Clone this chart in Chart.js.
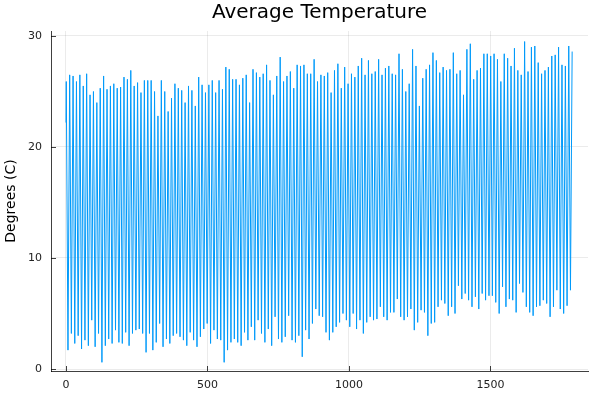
<!DOCTYPE html>
<html>
<head>
<meta charset="utf-8">
<script src="https://cdn.jsdelivr.net/npm/chart.js@4"></script>
<style>
  html, body { margin: 0; padding: 0; background: #fff; }
  #wrap { width: 600px; height: 400px; }
</style>
</head>
<body>
<div id="wrap"><canvas id="chart" width="600" height="400"></canvas></div>
<script>
const firstValue = 22.2
const yearlyPeaks = [
  25.9, 26.5, 26.4, 25.9, 26.5, 25.5, 26.6, 24.7, 25.0, 24.0, 25.3, 26.4, 25.2, 25.5, 25.7, 25.3, 25.4, 26.3, 26.1, 26.9, 25.5, 25.8, 24.9, 26.0, 26.0,
  26.0, 25.0, 22.8, 26.0, 25.0, 23.2, 24.4, 25.7, 25.3, 25.1, 24.0, 25.5, 25.1, 23.7, 26.3, 25.6, 24.9, 25.6, 26.0, 24.9, 26.0, 25.2, 27.2, 27.0, 26.1,
  26.1, 25.6, 26.2, 26.5, 24.0, 27.0, 26.7, 26.3, 26.6, 27.4, 26.0, 24.7, 26.4, 28.1, 25.9, 26.4, 26.8, 25.3, 27.4, 27.3, 27.4, 26.6, 26.6, 27.9, 25.9, 26.5,
  26.4, 26.7, 24.9, 26.9, 27.5, 25.3, 27.2, 25.7, 26.6, 26.3, 27.3, 28.0, 26.5, 27.8, 26.6, 26.8, 27.9, 26.5, 27.1, 27.3, 26.6, 26.5, 28.4, 27.0,
  25.0, 25.7, 28.8, 27.3, 23.7, 26.2, 27.0, 27.4, 28.5, 27.8, 26.7, 27.2, 26.9, 27.0, 28.5, 26.6, 26.9, 24.7, 28.8, 29.3, 26.1, 26.9, 27.1, 28.4,
  28.4, 28.2, 28.4, 27.9, 25.9, 28.4, 28.0, 27.3, 28.9, 26.9, 26.5, 29.5, 26.8, 29.0, 29.1, 27.6, 26.6, 26.9, 27.2, 28.2, 28.3, 29.0, 27.4, 27.3, 29.1, 28.6
]
const yearlyLows = [
  1.7, 3.2, 2.3, 3.0, 1.8, 2.6, 2.1, 4.4, 2.0, 3.2, 0.6, 2.1, 2.7, 2.3, 3.5, 2.4, 2.3, 3.3, 2.1, 3.2, 3.5, 3.6, 3.2, 1.5,
  3.2, 1.7, 2.4, 4.1, 2.0, 2.7, 2.3, 3.0, 3.2, 2.9, 2.6, 2.1, 3.3, 2.6, 2.0, 2.9, 3.6, 4.1, 2.3, 3.5, 2.7, 2.6, 0.6, 1.7, 2.4,
  2.7, 2.4, 2.1, 3.3, 2.6, 3.8, 2.6, 4.4, 3.2, 2.4, 3.6, 2.1, 4.7, 2.7, 2.4, 2.9, 4.8, 2.6, 2.4, 3.0, 1.1, 3.5, 2.7, 4.1, 5.4, 4.8,
  4.7, 3.3, 2.6, 3.3, 3.8, 4.2, 5.0, 4.4, 3.8, 5.0, 3.6, 4.4, 3.2, 4.2, 4.7, 4.4, 4.5, 5.6, 4.7, 4.4, 5.1, 5.1, 6.3, 4.7,
  4.4, 4.7, 5.4, 3.5, 4.2, 5.3, 5.1, 3.0, 4.1, 4.2, 5.6, 6.2, 5.9, 4.8, 5.6, 5.0, 7.5, 6.3, 6.8, 6.2, 5.6, 6.5, 5.4, 6.8, 6.2, 6.6,
  6.6, 6.0, 5.0, 7.4, 5.6, 6.3, 6.2, 5.1, 7.7, 6.9, 5.6, 5.1, 4.8, 5.6, 5.7, 6.2, 5.9, 4.7, 5.6, 7.1, 5.4, 5.0, 5.7, 7.1
]
const peakMonth = 1
const lowMonth = 7
const xTicks = [0, 500, 1000, 1500]
const yTicks = [0, 10, 20, 30]

const points = [{ x: 0, y: firstValue }]
yearlyPeaks.forEach((p, i) => {
  points.push({ x: i * 12 + peakMonth, y: p })
  if (i < yearlyLows.length) points.push({ x: i * 12 + lowMonth, y: yearlyLows[i] })
})

const FONT = 'DejaVu Sans'

// title centred over the plot area, small inward ticks like the original
const decor = {
  id: 'decor',
  afterDraw(chart) {
    const { ctx, chartArea, scales } = chart
    ctx.save()
    ctx.fillStyle = '#000'
    ctx.font = '20px "' + FONT + '"'
    ctx.textAlign = 'center'
    ctx.textBaseline = 'alphabetic'
    ctx.fillText('Average Temperature', (chartArea.left + chartArea.right) / 2, 18)
    ctx.strokeStyle = 'rgba(0,0,0,0.75)'
    ctx.lineWidth = 1
    ctx.beginPath()
    for (const v of xTicks) {
      const px = Math.round(scales.x.getPixelForValue(v)) + 0.5
      ctx.moveTo(px, chartArea.bottom)
      ctx.lineTo(px, chartArea.bottom - 5)
    }
    for (const v of yTicks) {
      const py = Math.round(scales.y.getPixelForValue(v)) + 0.5
      ctx.moveTo(chartArea.left, py)
      ctx.lineTo(chartArea.left + 5, py)
    }
    ctx.stroke()
    ctx.restore()
  }
}

new Chart(document.getElementById('chart'), {
  type: 'line',
  data: {
    datasets: [{ data: points, borderColor: '#009AFA', borderWidth: 1, pointRadius: 0, tension: 0, fill: false }]
  },
  options: {
    responsive: false,
    animation: false,
    layout: { padding: { top: 31, right: 12, left: 0, bottom: 0 } },
    plugins: { legend: { display: false }, title: { display: false }, tooltip: { enabled: false } },
    scales: {
      x: {
        type: 'linear', min: -53, max: 1845,
        afterBuildTicks: s => { s.ticks = xTicks.map(v => ({ value: v })) },
        afterFit: s => { s.height = 29 },
        grid: { color: 'rgba(0,0,0,0.08)', drawTicks: false },
        border: { display: true, color: 'rgba(0,0,0,0.75)' },
        ticks: { color: '#222', padding: 8, maxRotation: 0, callback: v => String(v), font: { family: FONT, size: 11 } }
      },
      y: {
        type: 'linear', min: -0.18, max: 30.45,
        afterBuildTicks: s => { s.ticks = yTicks.map(v => ({ value: v })) },
        afterFit: s => { s.width = 51 },
        grid: { color: 'rgba(0,0,0,0.08)', drawTicks: false },
        border: { display: true, color: 'rgba(0,0,0,0.75)' },
        ticks: { color: '#222', padding: 9, callback: v => String(v), font: { family: FONT, size: 11 } },
        title: { display: true, text: 'Degrees (C)', color: '#000', padding: { top: 3, bottom: 0 }, font: { family: FONT, size: 14 } }
      }
    }
  },
  plugins: [decor]
})
</script>
</body>
</html>
